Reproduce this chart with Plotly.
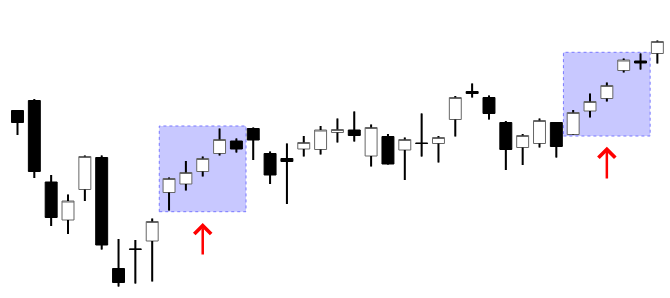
import plotly.graph_objects as go

idx = list(range(39))
opens = [187.5, 197.5, 116, 78, 108.5, 140.5, 29.5, 49, 57, 105.5,
         114, 126.5, 144.5, 157, 169.5, 144.5, 139.5, 149, 148.5, 165.5,
         168, 142, 161.5, 148, 154.9, 154.5, 178.5, 206.5, 200.5, 175.5,
         150.5, 154.5, 175.5, 163.5, 187, 199.5, 227.5, 237, 244.5]
highs = [188, 199, 123, 103.5, 142.5, 142.5, 59, 58, 79.5, 120.5,
         137, 141.5, 169.5, 159.5, 170.5, 146.5, 154.5, 162, 172, 179.5,
         186.5, 173.5, 164, 160.5, 184.5, 162, 202, 214.5, 202.5, 177,
         164, 179.5, 176, 188, 204.5, 215.5, 239.5, 244.5, 257.5]
lows = [163, 120, 72, 64, 97, 48.5, 11.5, 14.5, 16.5, 87.5,
        107.5, 121.5, 142.5, 145.5, 138, 114, 94, 141.5, 143.5, 155.5,
        156.5, 131.5, 133.5, 118, 141.5, 135.5, 161.5, 200.5, 178.5, 128,
        133, 150.5, 140.5, 163, 180.5, 196.5, 225.5, 228.5, 234.5]
closes = [175.5, 126.5, 80.5, 97, 141.5, 53, 15.5, 48.7, 76.5, 119.5,
          125.5, 139.5, 158.5, 149, 158, 123, 136.5, 155.5, 168, 168.5,
          162.5, 170.5, 134, 158.5, 154.6, 160.5, 200.5, 204.5, 184.5, 148.5,
          162.5, 177.5, 151.5, 185.5, 196.5, 212.5, 238, 235, 256.5]

# highlighted zones: (first candle, last candle, low price, high price)
zone_first = [9, 33]
zone_last = [13, 37]
zone_low = [86.3, 162]
zone_high = [172, 245.7]
# arrows: candle index, tail price, head price
arrow_idx = [11, 35]
arrow_tail = [42, 118]
arrow_head = [75, 151.3]

fig = go.Figure()

for i, z in enumerate(zone_first):
    fig.add_shape(type="rect", xref="x", yref="y",
                  x0=zone_first[i] - 0.58, x1=zone_last[i] + 0.57,
                  y0=zone_low[i], y1=zone_high[i],
                  fillcolor="rgb(200,200,255)", layer="below",
                  line=dict(color="rgb(120,120,255)", width=1, dash="dot"))

fig.add_trace(go.Candlestick(
    x=idx, open=opens, high=highs, low=lows, close=closes,
    increasing=dict(line=dict(color="#666666", width=1), fillcolor="white"),
    decreasing=dict(line=dict(color="black", width=1), fillcolor="black"),
    whiskerwidth=0, hoverinfo="skip", showlegend=False))

wx, wy = [], []
for i in idx:
    top = max(opens[i], closes[i])
    bot = min(opens[i], closes[i])
    wx += [i, i, None, i, i, None]
    wy += [highs[i], top, None, bot, lows[i], None]
fig.add_trace(go.Scatter(x=wx, y=wy, mode="lines",
                         line=dict(color="black", width=2),
                         hoverinfo="skip", showlegend=False))

for i, a in enumerate(arrow_idx):
    fig.add_annotation(x=a, y=arrow_head[i], ax=a, ay=arrow_tail[i],
                       xref="x", yref="y", axref="x", ayref="y",
                       text="", showarrow=True, arrowhead=4, arrowsize=1.3,
                       arrowwidth=2.5, arrowcolor="red")

fig.update_layout(
    width=670, height=298, margin=dict(l=0, r=0, t=0, b=0),
    paper_bgcolor="white", plot_bgcolor="white",
    boxgap=0.29, boxgroupgap=0,
    xaxis=dict(range=[-1.039, 38.75], visible=False,
               rangeslider=dict(visible=False), fixedrange=True),
    yaxis=dict(range=[0, 298], visible=False, fixedrange=True),
    showlegend=False,
)

fig.write_html("out.html", config={"displayModeBar": False})
